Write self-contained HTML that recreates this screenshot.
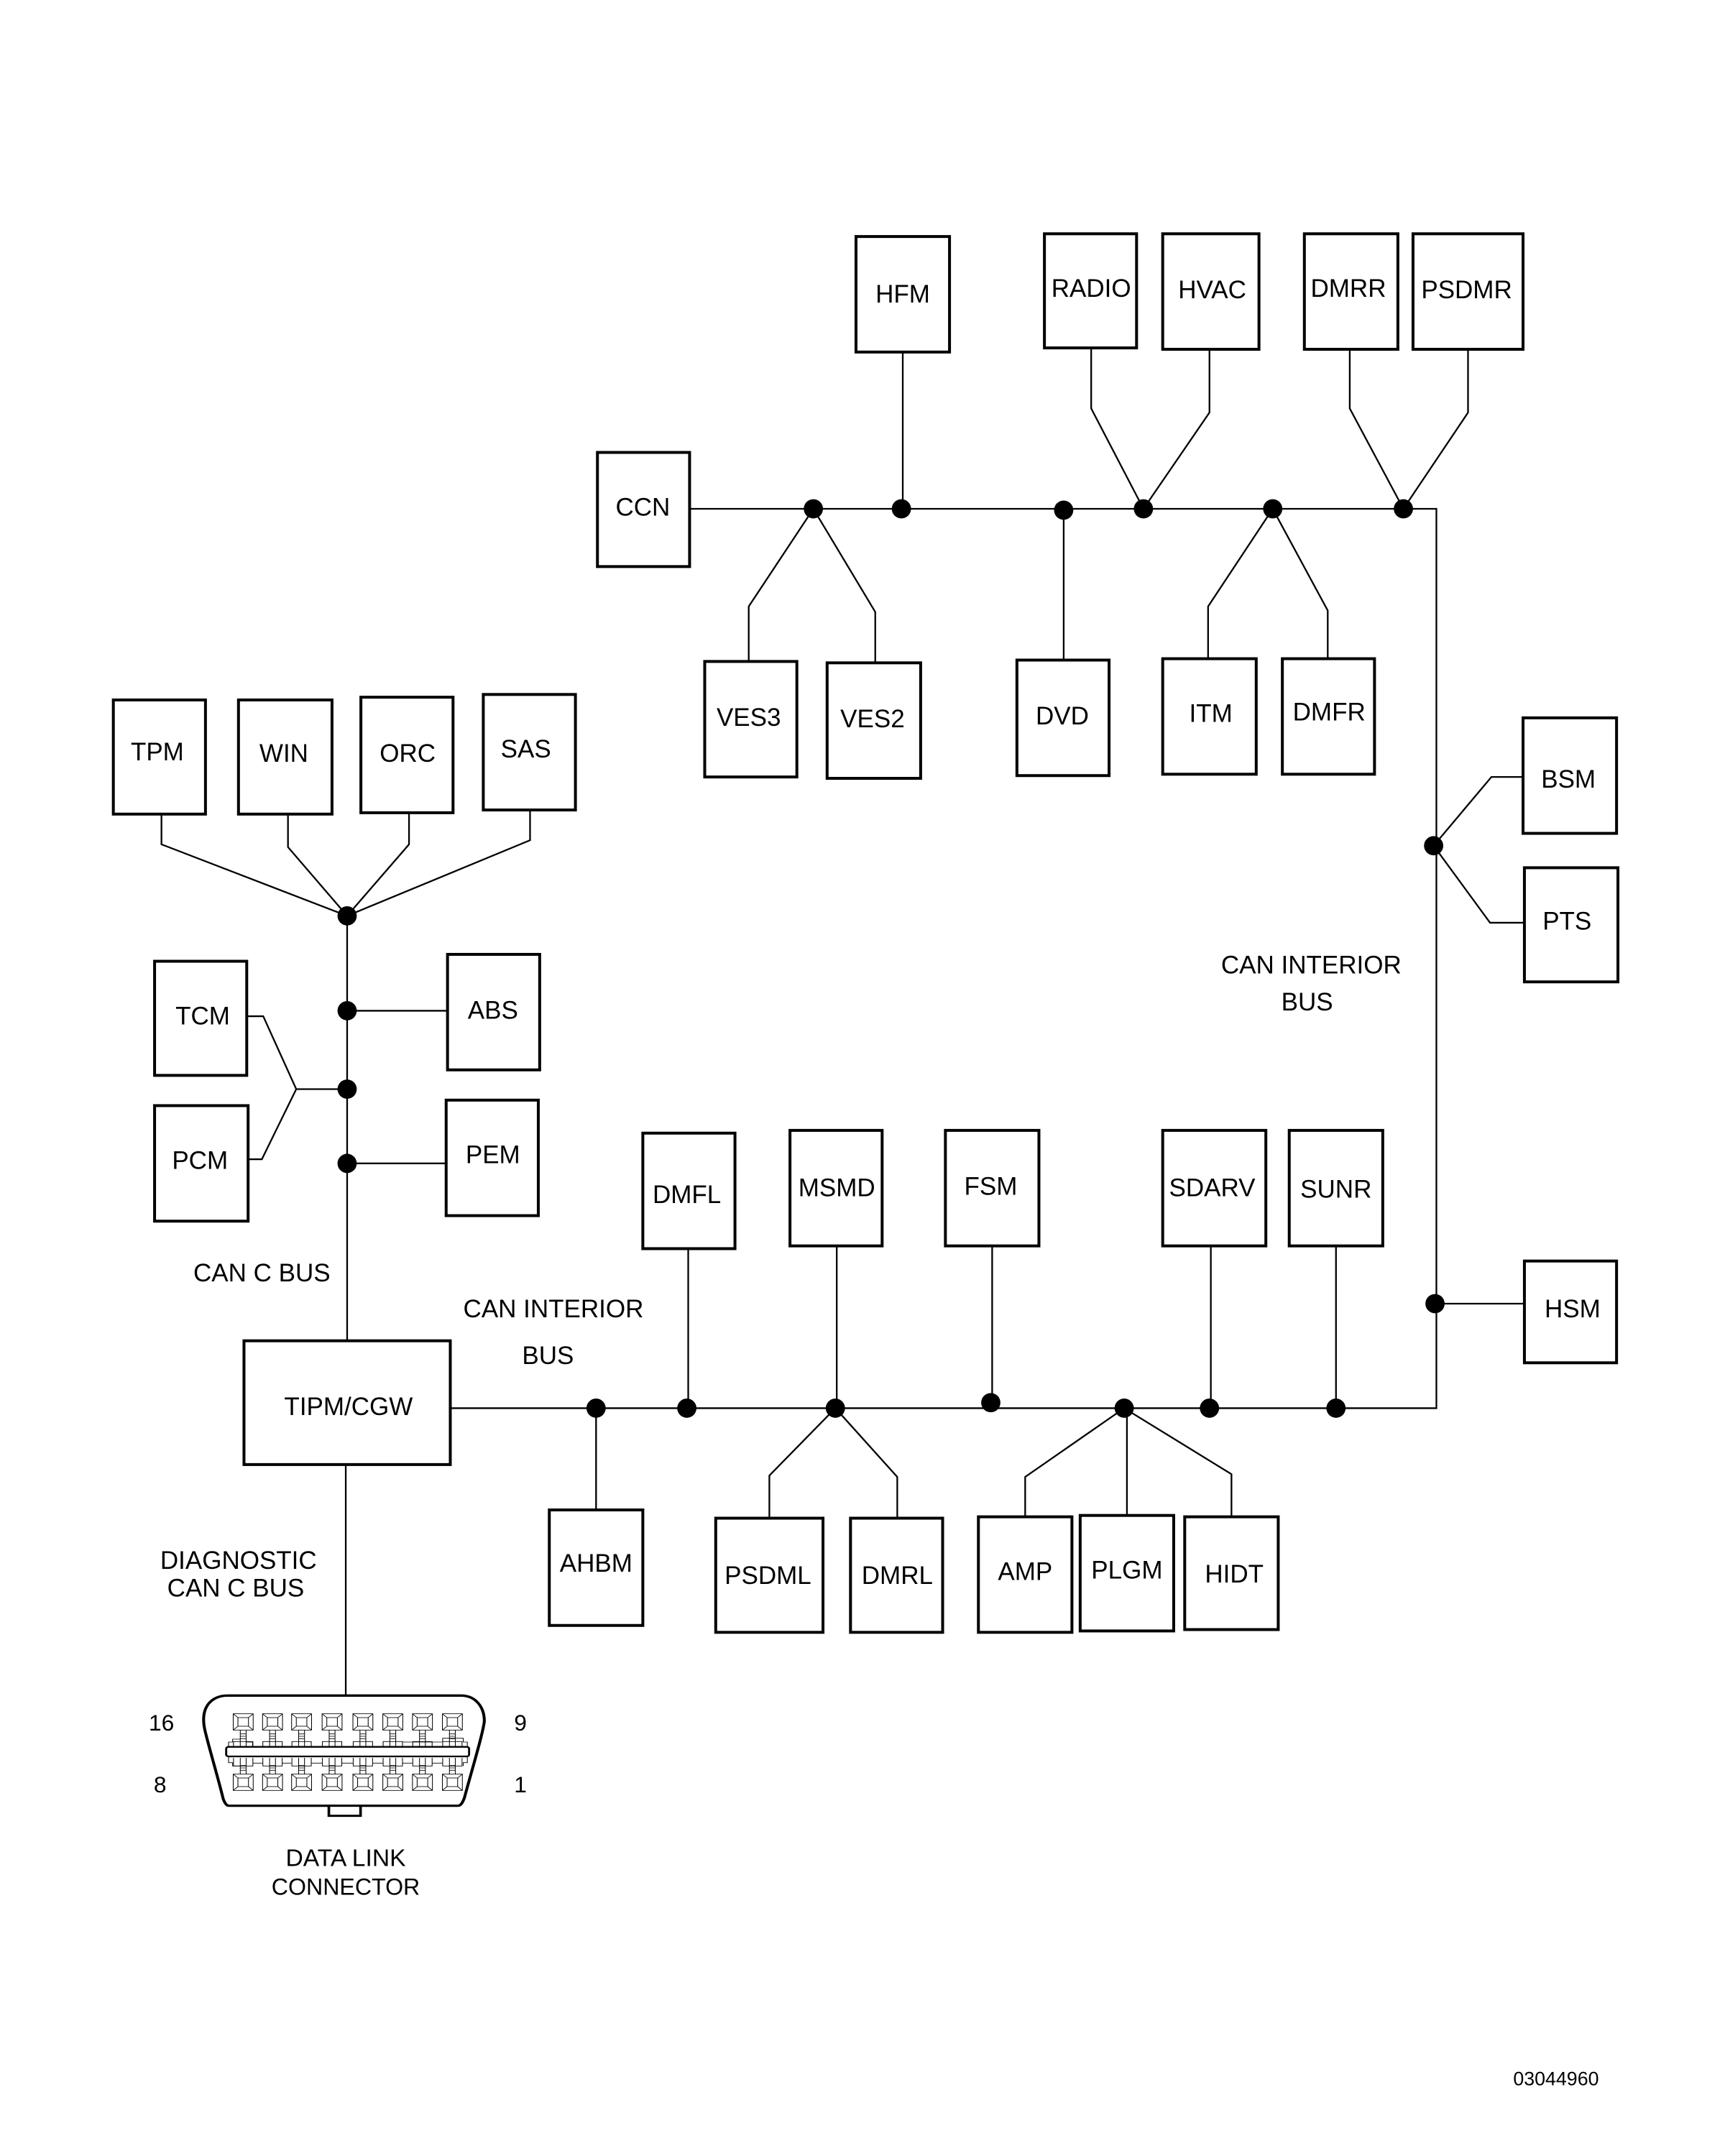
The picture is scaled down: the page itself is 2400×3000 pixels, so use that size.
<!DOCTYPE html>
<html><head><meta charset="utf-8"><title>CAN bus diagram</title>
<style>
html,body{margin:0;padding:0;background:#fff}
svg{display:block}
text{font-family:"Liberation Sans",Arial,sans-serif;fill:#000;text-anchor:middle}
.b rect{fill:#fff;stroke:#000;stroke-width:2.1}
.l path{fill:none;stroke:#000;stroke-width:1.2}
.t text{font-size:18.3px}
</style></head><body>
<svg xmlns="http://www.w3.org/2000/svg" width="2400" height="3000" viewBox="0 0 2400 3000">
<rect width="2400" height="3000" fill="#fff"/>
<defs>
<g id="pin" fill="none" stroke="#000" stroke-width="2.5">
<rect x="-34" y="-34" width="68" height="68"/><rect x="-18" y="-18" width="36" height="36"/>
<path d="M-34-34L-18-18M34-34L18-18M-34 34L-18 18M34 34L18 18"/>
</g>
<g id="up" fill="none" stroke="#000" stroke-width="2.5">
<path d="M-10 34V102M10 34V102M-10 50H10M-10 60H10M-10 70H10M-33 102V82H33V102"/>
</g>
<g id="dn" fill="none" stroke="#000" stroke-width="2.5">
<path d="M-10-34V-102M10-34V-102M-10-50H10M-10-60H10M-10-70H10M-33-102V-68H33V-102"/>
</g>
</defs>
<g transform="scale(1.9135) translate(.4,0)">
<g class="l">
<path d="M501 370H1044V1024H327"/>
<path d="M656 256V370M793 253V297L831 370M879 254V300L831 370M981 254V297L1020 370M1067 254V300L1020 370"/>
<path d="M544 481V441L591 370M636 482V445L591 370M773 371V480M878 479V441L925 370M965 479V444L925 370"/>
<path d="M1107 565H1084L1042 615L1083 671H1108M1043 948H1108"/>
<path d="M252 666V975M117 592V614L252 666M209 592V616L252 666M297 591V614L252 666M385 589V611L252 666"/>
<path d="M252 735H325M252 846H324M179 739H191L215 792H252M180 843H190L215 792"/>
<path d="M500 908V1024M608 906V1024M721 906V1020M880 906V1024M971 906V1024M433 1024V1098"/>
<path d="M559 1104V1073L607 1024M652 1104V1074L607 1024M745 1103V1074L817 1024M819 1102V1024M895 1103V1072L817 1024M251 1065V1233"/>
</g>
<g fill="#000">
<circle cx="591" cy="370" r="7"/><circle cx="655" cy="370" r="7"/><circle cx="773" cy="371" r="7"/><circle cx="831" cy="370" r="7"/><circle cx="925" cy="370" r="7"/><circle cx="1020" cy="370" r="7"/>
<circle cx="1042" cy="615" r="7"/><circle cx="1043" cy="948" r="7"/>
<circle cx="252" cy="666" r="7"/><circle cx="252" cy="735" r="7"/><circle cx="252" cy="792" r="7"/><circle cx="252" cy="846" r="7"/>
<circle cx="433" cy="1024" r="7"/><circle cx="499" cy="1024" r="7"/><circle cx="607" cy="1024" r="7"/><circle cx="720" cy="1020" r="7"/><circle cx="817" cy="1024" r="7"/><circle cx="879" cy="1024" r="7"/><circle cx="971" cy="1024" r="7"/>
</g>
<g class="b">
<rect x="622" y="172" width="68" height="84"/><rect x="759" y="170" width="67" height="83"/><rect x="845" y="170" width="70" height="84"/><rect x="948" y="170" width="68" height="84"/><rect x="1027" y="170" width="80" height="84"/>
<rect x="434" y="329" width="67" height="83"/><rect x="512" y="481" width="67" height="84"/><rect x="601" y="482" width="68" height="84"/><rect x="739" y="480" width="67" height="84"/><rect x="845" y="479" width="68" height="84"/><rect x="932" y="479" width="67" height="84"/>
<rect x="1107" y="522" width="68" height="84"/><rect x="1108" y="631" width="68" height="83"/><rect x="1108" y="917" width="67" height="74"/>
<rect x="82" y="509" width="67" height="83"/><rect x="173" y="509" width="68" height="83"/><rect x="262" y="507" width="67" height="84"/><rect x="351" y="505" width="67" height="84"/>
<rect x="112" y="699" width="67" height="83"/><rect x="112" y="804" width="68" height="84"/><rect x="325" y="694" width="67" height="84"/><rect x="324" y="800" width="67" height="84"/>
<rect x="177" y="975" width="150" height="90"/>
<rect x="467" y="824" width="67" height="84"/><rect x="574" y="822" width="67" height="84"/><rect x="687" y="822" width="68" height="84"/><rect x="845" y="822" width="75" height="84"/><rect x="937" y="822" width="68" height="84"/>
<rect x="399" y="1098" width="68" height="84"/><rect x="520" y="1104" width="78" height="83"/><rect x="618" y="1104" width="67" height="83"/><rect x="711" y="1103" width="68" height="84"/><rect x="785" y="1102" width="68" height="84"/><rect x="861" y="1103" width="68" height="82"/>
</g>
<g class="t" transform="translate(0,-.6)">
<text x="656" y="220.500">HFM</text><text x="793" y="216.500">RADIO</text><text x="881" y="217.500">HVAC</text><text x="980" y="216.500">DMRR</text><text x="1066" y="217.500">PSDMR</text>
<text x="467" y="375.500">CCN</text><text x="544" y="528.500">VES3</text><text x="634" y="529.500">VES2</text><text x="772" y="527.500">DVD</text><text x="880" y="525.500">ITM</text><text x="966" y="524.500">DMFR</text>
<text x="1140" y="573.500">BSM</text><text x="1139" y="676.500">PTS</text><text x="1143" y="958.500">HSM</text>
<text x="114" y="553.500">TPM</text><text x="206" y="554.500">WIN</text><text x="296" y="554.500">ORC</text><text x="382" y="551.500">SAS</text>
<text x="147" y="745.500">TCM</text><text x="145" y="850.500">PCM</text><text x="358" y="741.500">ABS</text><text x="358" y="846.500">PEM</text>
<text x="253" y="1029.500">TIPM/CGW</text>
<text x="499" y="875.500">DMFL</text><text x="608" y="870.500">MSMD</text><text x="720" y="869.500">FSM</text><text x="881" y="870.500">SDARV</text><text x="971" y="871.500">SUNR</text>
<text x="433" y="1143.500">AHBM</text><text x="558" y="1152.500">PSDML</text><text x="652" y="1152.500">DMRL</text><text x="745" y="1149.500">AMP</text><text x="819" y="1148.500">PLGM</text><text x="897" y="1151.500">HIDT</text>
<text x="953" y="708.500">CAN INTERIOR</text><text x="950" y="735.500">BUS</text>
<text x="402" y="958.500">CAN INTERIOR</text><text x="398" y="992.500">BUS</text>
<text x="190" y="932.500">CAN C BUS</text>
<text x="173" y="1141.500">DIAGNOSTIC</text><text x="171" y="1161.500">CAN C BUS</text>
<text x="117" y="1259" style="font-size:16.6px">16</text><text x="378" y="1259" style="font-size:16.6px">9</text><text x="116" y="1304" style="font-size:16.6px">8</text><text x="378" y="1304" style="font-size:16.6px">1</text>
<text x="251" y="1357.500" style="font-size:17.6px">DATA LINK</text><text x="251" y="1378.500" style="font-size:16.8px">CONNECTOR</text>
<text x="1131" y="1517" style="font-size:14px">03044960</text>
</g>
</g>
<g transform="translate(180,2300) scale(.40816,.3333)">
<path d="M335 178H1130C1180 178 1210 225 1210 285C1205 340 1160 520 1142 605C1136 625 1130 638 1120 638H340C330 638 325 625 320 610C300 510 270 390 257 320C250 280 252 240 270 212C285 190 305 178 335 178Z" fill="#fff" stroke="#000" stroke-width="10"/>
<rect x="680" y="638" width="108" height="42" fill="#fff" stroke="#000" stroke-width="9"/>
<use href="#pin" x="388" y="288"/><use href="#pin" x="488" y="288"/><use href="#pin" x="587" y="288"/><use href="#pin" x="691" y="288"/><use href="#pin" x="796" y="288"/><use href="#pin" x="898" y="288"/><use href="#pin" x="999" y="288"/><use href="#pin" x="1101" y="288"/>
<use href="#pin" x="388" y="540"/><use href="#pin" x="488" y="540"/><use href="#pin" x="587" y="540"/><use href="#pin" x="691" y="540"/><use href="#pin" x="796" y="540"/><use href="#pin" x="898" y="540"/><use href="#pin" x="999" y="540"/><use href="#pin" x="1101" y="540"/>
<use href="#up" x="388" y="288"/><use href="#up" x="488" y="288"/><use href="#up" x="587" y="288"/><use href="#up" x="691" y="288"/><use href="#up" x="796" y="288"/><use href="#up" x="898" y="288"/><use href="#up" x="999" y="288"/><use href="#up" x="1101" y="288"/>
<use href="#dn" x="388" y="540"/><use href="#dn" x="488" y="540"/><use href="#dn" x="587" y="540"/><use href="#dn" x="691" y="540"/><use href="#dn" x="796" y="540"/><use href="#dn" x="898" y="540"/><use href="#dn" x="999" y="540"/><use href="#dn" x="1101" y="540"/>
<path d="M338 390V372H352V360H378M420 390V372M398 372H420M932 372H1066M1068 372V356H1138V372H1152V390M338 432V458H352V472H378M420 460H454M521 460H552M621 460H658M724 460H763M830 460H864M932 460H965M1032 460H1068M1138 472V458H1152V432" fill="none" stroke="#000" stroke-width="2.5"/>
<rect x="330" y="392" width="828" height="40" rx="8" fill="#fff" stroke="#000" stroke-width="7"/>
</g>
</svg>
</body></html>
